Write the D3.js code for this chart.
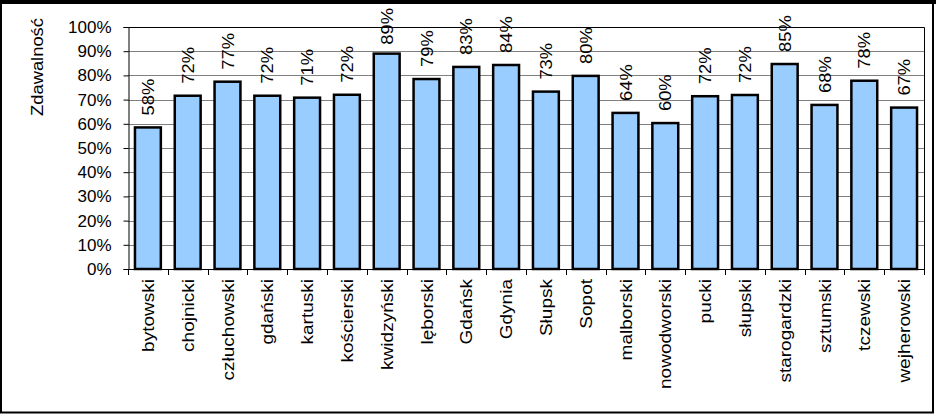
<!DOCTYPE html>
<html><head><meta charset="utf-8">
<script src="https://cdn.jsdelivr.net/npm/d3@7"></script>
<style>
html,body{margin:0;padding:0;background:#fff;}
svg{display:block;font-family:"Liberation Sans",Arial,sans-serif;}
</style></head>
<body>
<svg id="chart" width="936" height="416"></svg>
<script>
const categories = ["bytowski","chojnicki","człuchowski","gdański","kartuski","kościerski","kwidzyński","lęborski","Gdańsk","Gdynia","Słupsk","Sopot","malborski","nowodworski","pucki","słupski","starogardzki","sztumski","tczewski","wejherowski"];
const values = [0.585,0.716,0.774,0.716,0.708,0.720,0.890,0.785,0.835,0.843,0.733,0.798,0.645,0.603,0.714,0.719,0.847,0.678,0.778,0.667];
const labels = ["58%","72%","77%","72%","71%","72%","89%","79%","83%","84%","73%","80%","64%","60%","72%","72%","85%","68%","78%","67%"];
const yTicks = [0,0.1,0.2,0.3,0.4,0.5,0.6,0.7,0.8,0.9,1.0];
const yTitle = "Zdawalność";

const svg = d3.select("#chart");
const L = 128, R = 924, T = 27, B = 269;

// outer frame
svg.append("rect").attr("x",1).attr("y",1.5).attr("width",932).attr("height",411)
  .attr("fill","#fff").attr("stroke","#000").attr("stroke-width",2);
svg.append("line").attr("x1",0).attr("x2",936).attr("y1",2).attr("y2",2).attr("stroke","#000").attr("stroke-width",4);

const x = d3.scaleBand().domain(categories).range([L,R]).paddingInner(0.35).paddingOuter(0.175);
const y = d3.scaleLinear().domain([0,1]).range([B,T]);

// gridlines
svg.append("g").selectAll("line").data(yTicks.filter(d=>d>0 && d<1)).join("line")
  .attr("x1",L).attr("x2",R).attr("y1",d=>Math.round(y(d))+0.5).attr("y2",d=>Math.round(y(d))+0.5)
  .attr("stroke","#808080").attr("stroke-width",1);

// plot border top/right
svg.append("path").attr("d",`M${L},${T+0.5}H${R+0.5}V${B}`).attr("fill","none").attr("stroke","#000").attr("stroke-width",1);

// bars
svg.append("g").selectAll("rect").data(categories).join("rect")
  .attr("x",d=>x(d)).attr("width",x.bandwidth())
  .attr("y",(d,i)=>y(values[i])).attr("height",(d,i)=>B - y(values[i]))
  .attr("fill","#99CCFF").attr("stroke","#000").attr("stroke-width",2.5);

// y axis
const yAxis = d3.axisLeft(y).tickValues(yTicks).tickFormat(d3.format(".0%")).tickSize(5).tickPadding(12);
const gy = svg.append("g").attr("transform",`translate(${L+0.5},0)`).call(yAxis);
gy.select(".domain").attr("stroke","#000");
gy.selectAll(".tick line").attr("stroke","#000");
gy.selectAll("text").attr("font-size",17).attr("font-family","Liberation Sans, Arial, sans-serif").attr("fill","#000");

// x axis line and boundary ticks
const step = x.step();
svg.append("line").attr("x1",L).attr("x2",R+0.5).attr("y1",B+0.5).attr("y2",B+0.5).attr("stroke","#000");
const bounds = d3.range(categories.length+1).map(i=>L + i*step);
svg.append("g").selectAll("line").data(bounds).join("line")
  .attr("x1",d=>Math.round(d)+0.5).attr("x2",d=>Math.round(d)+0.5).attr("y1",B).attr("y2",B+6)
  .attr("stroke","#000");

// category labels
svg.append("g").selectAll("text").data(categories).join("text")
  .attr("transform",d=>`translate(${x(d)+x.bandwidth()/2+6},${B+10}) rotate(-90) scale(1.12,1)`)
  .attr("text-anchor","end").attr("font-size",17).attr("fill","#000").text(d=>d);

// data labels (kept inside the chart frame, as the original does)
const sx = 1.08;
svg.append("g").selectAll("text").data(categories).join("text")
  .attr("text-anchor","start").attr("font-size",17).attr("fill","#000").text((d,i)=>labels[i])
  .each(function(d,i){
    const len = this.getComputedTextLength()*sx;
    const base = Math.max(y(values[i]) - 12, 8 + len);
    d3.select(this).attr("transform",`translate(${x(d)+x.bandwidth()/2+6},${base}) rotate(-90) scale(${sx},1)`);
  });

// y title
svg.append("text").attr("transform",`translate(${43},${67}) rotate(-90) scale(1.08,1)`)
  .attr("text-anchor","middle").attr("font-size",17).attr("fill","#000").text(yTitle);
</script>
</body></html>
